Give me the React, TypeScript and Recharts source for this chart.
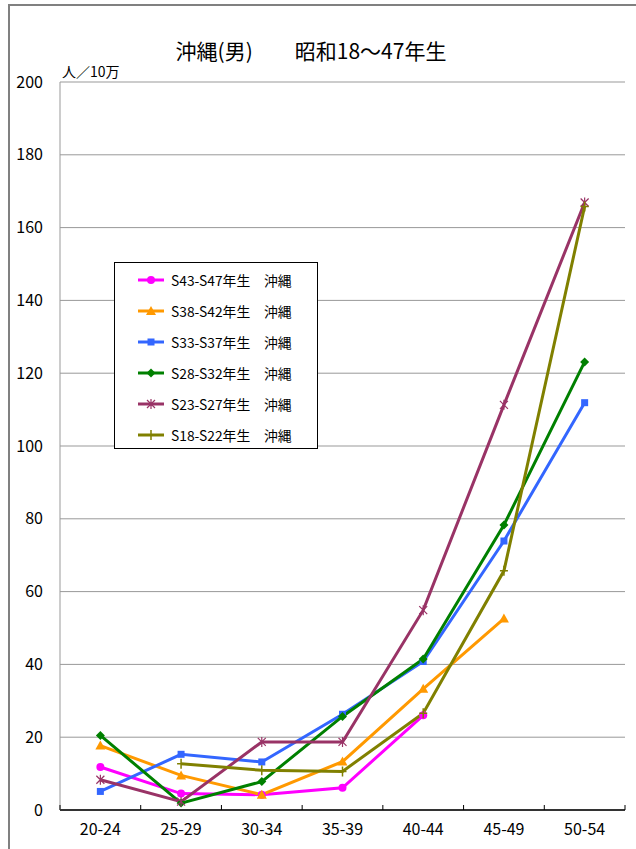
import React from "react";
import { LineChart, Line, XAxis, YAxis, CartesianGrid, Legend } from "recharts";

const categories = ["20-24", "25-29", "30-34", "35-39", "40-44", "45-49", "50-54"];

// 人/10万
const s43s47 = [11.8, 4.5, 4.2, 6.1, 26.0, null, null];
const s38s42 = [17.7, 9.5, 4.2, 13.3, 33.3, 52.6, null];
const s33s37 = [5.1, 15.3, 13.2, 26.3, 40.8, 73.9, 111.9];
const s28s32 = [20.5, 1.9, 7.8, 25.7, 41.5, 78.3, 123.1];
const s23s27 = [8.3, 2.3, 18.7, 18.7, 54.9, 111.3, 166.9];
const s18s22 = [null, 12.7, 10.9, 10.6, 26.6, 65.7, 165.8];

const yTicks = [0, 20, 40, 60, 80, 100, 120, 140, 160, 180, 200];

const FONT = '"Noto Sans CJK JP", "Noto Sans", sans-serif';

type Shape = "circle" | "triangle" | "square" | "diamond" | "star" | "plus";

const series: { key: string; name: string; color: string; shape: Shape; values: (number | null)[] }[] = [
  { key: "s43", name: "S43-S47年生　沖縄", color: "#ff00ff", shape: "circle", values: s43s47 },
  { key: "s38", name: "S38-S42年生　沖縄", color: "#ff9900", shape: "triangle", values: s38s42 },
  { key: "s33", name: "S33-S37年生　沖縄", color: "#3366ff", shape: "square", values: s33s37 },
  { key: "s28", name: "S28-S32年生　沖縄", color: "#008000", shape: "diamond", values: s28s32 },
  { key: "s23", name: "S23-S27年生　沖縄", color: "#993366", shape: "star", values: s23s27 },
  { key: "s18", name: "S18-S22年生　沖縄", color: "#808000", shape: "plus", values: s18s22 },
];

const data = categories.map((cat, i) => {
  const row: Record<string, string | number | null> = { cat };
  series.forEach((s) => (row[s.key] = s.values[i]));
  return row;
});

function Marker({ shape, color, cx, cy }: { shape: Shape; color: string; cx: number; cy: number }) {
  switch (shape) {
    case "circle":
      return <circle cx={cx} cy={cy} r={4} fill={color} />;
    case "triangle":
      return <path d={`M${cx},${cy - 5} L${cx + 5},${cy + 4} L${cx - 5},${cy + 4} Z`} fill={color} />;
    case "square":
      return <rect x={cx - 3.5} y={cy - 3.5} width={7} height={7} fill={color} />;
    case "diamond":
      return <path d={`M${cx},${cy - 4.5} L${cx + 4.5},${cy} L${cx},${cy + 4.5} L${cx - 4.5},${cy} Z`} fill={color} />;
    case "star":
      return (
        <path
          d={`M${cx - 4},${cy - 4} L${cx + 4},${cy + 4} M${cx - 4},${cy + 4} L${cx + 4},${cy - 4} M${cx},${cy - 5} L${cx},${cy + 5}`}
          stroke={color}
          strokeWidth={1.2}
          fill="none"
        />
      );
    default:
      return <path d={`M${cx},${cy - 5} L${cx},${cy + 5} M${cx - 4},${cy} L${cx + 4},${cy}`} stroke={color} strokeWidth={1.5} />;
  }
}

const makeDot = (shape: Shape, color: string) => (props: any) => {
  const { cx, cy, index, value } = props;
  if (value == null || cx == null || cy == null) return <g key={index} />;
  return (
    <g key={index}>
      <Marker shape={shape} color={color} cx={cx} cy={cy} />
    </g>
  );
};

const PLOT_LEFT = 60;
const PLOT_RIGHT = 625;
const BAND = (PLOT_RIGHT - PLOT_LEFT) / categories.length;

function XTick(props: any) {
  const { x, payload, index } = props;
  const axisY = 810;
  return (
    <g>
      <line x1={x - BAND / 2} x2={x - BAND / 2} y1={axisY} y2={axisY - 5} stroke="#000" />
      {index === categories.length - 1 && (
        <line x1={x + BAND / 2} x2={x + BAND / 2} y1={axisY} y2={axisY - 5} stroke="#000" />
      )}
      <text x={x} y={axisY + 25} textAnchor="middle" fontSize={16} fontFamily={FONT} fill="#000">
        {payload.value}
      </text>
    </g>
  );
}

function LegendBox() {
  return (
    <div
      style={{
        width: 204,
        height: 187,
        boxSizing: "border-box",
        border: "1px solid #000",
        background: "#fff",
        paddingTop: 1,
        textAlign: "left",
      }}
    >
      {series.map((s) => (
        <div key={s.key} style={{ display: "flex", alignItems: "center", height: 31, paddingLeft: 23 }}>
          <svg width={26} height={12} style={{ display: "block" }}>
            <line x1={0} x2={26} y1={6} y2={6} stroke={s.color} strokeWidth={3} />
            <Marker shape={s.shape} color={s.color} cx={13} cy={6} />
          </svg>
          <span style={{ marginLeft: 7, fontSize: 13.8, fontFamily: FONT, color: "#000", whiteSpace: "pre" }}>
            {s.name}
          </span>
        </div>
      ))}
    </div>
  );
}

export default function App() {
  return (
    <div style={{ position: "absolute", left: 0, top: 0, width: 636, height: 849, background: "#fff", overflow: "hidden" }}>
      <div
        style={{
          position: "absolute",
          left: 8,
          top: 4,
          width: 640,
          height: 860,
          borderLeft: "2px solid #808080",
          borderTop: "2px solid #808080",
        }}
      />
      <div
        style={{
          position: "absolute",
          left: 311,
          top: 38,
          transform: "translateX(-50%)",
          fontSize: 21,
          lineHeight: "24px",
          fontFamily: FONT,
          whiteSpace: "pre",
          color: "#000",
        }}
      >
        沖縄(男)　　昭和18～47年生
      </div>
      <div
        style={{
          position: "absolute",
          left: 62,
          top: 63,
          fontSize: 14,
          lineHeight: "16px",
          fontFamily: FONT,
          color: "#000",
        }}
      >
        人／10万
      </div>
      <div style={{ position: "absolute", left: 0, top: 0 }}>
        <LineChart width={636} height={849} data={data} margin={{ top: 82, right: 11, bottom: 9, left: 10 }}>
          <CartesianGrid horizontal vertical={false} stroke="#999" />
          <XAxis
            dataKey="cat"
            height={30}
            padding={{ left: BAND / 2, right: BAND / 2 }}
            axisLine={{ stroke: "#000", strokeWidth: 1.5 }}
            tickLine={false}
            tick={<XTick />}
            interval={0}
          />
          <YAxis
            domain={[0, 200]}
            ticks={yTicks}
            interval={0}
            width={50}
            axisLine={{ stroke: "#999" }}
            tickLine={false}
            tickSize={0}
            tickMargin={17}
            tick={{ fontSize: 16, fill: "#000", fontFamily: FONT }}
          />
          <YAxis
            yAxisId="frame"
            orientation="right"
            width={0}
            tick={false}
            tickLine={false}
            axisLine={{ stroke: "#c0c0c0", strokeWidth: 2 }}
          />
          <Legend
            layout="vertical"
            align="center"
            verticalAlign="middle"
            wrapperStyle={{ left: 114, top: 262, width: 204, height: 187 }}
            content={() => <LegendBox />}
          />
          {series.map((s) => (
            <Line
              key={s.key}
              dataKey={s.key}
              name={s.name}
              stroke={s.color}
              strokeWidth={3}
              dot={makeDot(s.shape, s.color)}
              activeDot={false}
              isAnimationActive={false}
            />
          ))}
        </LineChart>
      </div>
    </div>
  );
}
